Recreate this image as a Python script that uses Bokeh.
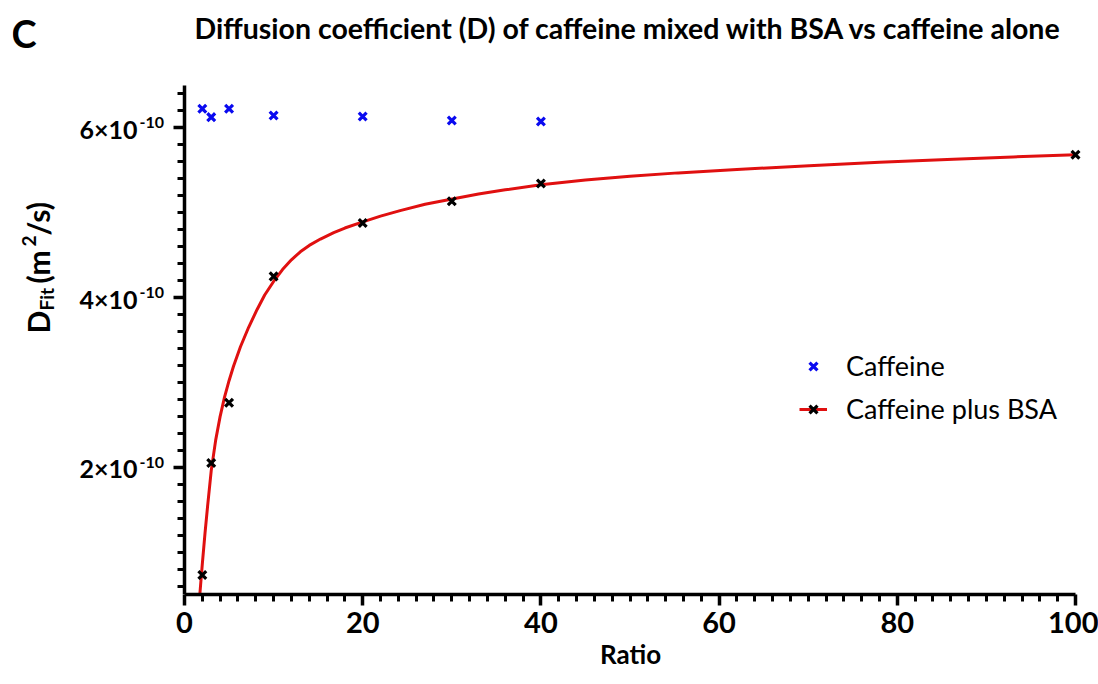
import numpy as np
from bokeh.plotting import figure
from bokeh.models import (Range1d, FixedTicker, Label, Legend, LegendItem, Title,
                          CustomJSTickFormatter)
from bokeh.embed import file_html
from bokeh.resources import INLINE

# ---------------- data ----------------
ratio = [2, 3, 5, 10, 20, 30, 40]
caffeine_D = [6.225e-10, 6.127e-10, 6.225e-10, 6.146e-10, 6.134e-10, 6.087e-10, 6.075e-10]

ratio_bsa = [2, 3, 5, 10, 20, 30, 40, 100]
caffeine_bsa_D = [0.730e-10, 2.05e-10, 2.76e-10, 4.25e-10, 4.88e-10, 5.136e-10, 5.345e-10, 5.683e-10]

# fitted curve: points
fit_x = [1.72, 2.0, 2.3, 2.6, 3.0, 3.5, 4.0, 4.5, 5.0, 5.5, 6.28, 7.2, 8.15, 9.0,
         10.0, 11.0, 12.0, 13.0, 14.0, 15.26, 16.75, 18.0, 19.93, 22.0, 24.2, 27.0,
         29.9, 33.0, 36.0, 40.0, 45.0, 50.0, 55.4, 62.0, 70.1, 78.0, 86.3, 93.0, 100.0]
fit_y = [0.50e-10, 0.86e-10, 1.22e-10, 1.55e-10, 1.96e-10, 2.32e-10, 2.60e-10, 2.83e-10,
         3.02e-10, 3.19e-10, 3.42e-10, 3.65e-10, 3.86e-10, 4.03e-10,
         4.19e-10, 4.33e-10, 4.445e-10, 4.54e-10, 4.615e-10, 4.69e-10, 4.765e-10, 4.82e-10,
         4.89e-10, 4.96e-10, 5.025e-10, 5.10e-10, 5.16e-10, 5.22e-10, 5.27e-10, 5.33e-10,
         5.385e-10, 5.43e-10, 5.47e-10, 5.51e-10, 5.555e-10, 5.595e-10, 5.63e-10, 5.658e-10,
         5.683e-10]

x_major = [0, 20, 40, 60, 80, 100]
x_minor = [v for v in range(2, 100, 2) if v % 20 != 0]
y_major = [2e-10, 4e-10, 6e-10]
y_major_text = ["2×10", "4×10", "6×10"]
y_exp_text = "-10"
y_minor = [round(0.6 + 0.2 * i, 1) * 1e-10 for i in range(30)]

title_text = "Diffusion coefficient (D) of caffeine mixed with BSA vs caffeine alone"
panel_text = "C"
x_title = "Ratio"
series_names = ["Caffeine", "Caffeine plus BSA"]

# ---------------- layout ----------------
W, H = 1098, 684
BL = 12                         # left border (frame covers the rest)
AX_L, AX_R = 184, 1075          # page px of x = 0 and x = 100
AX_T, AX_B = 85, 594            # page px of y = 6.5e-10 and y = 0.5e-10
BB = H - AX_B                   # bottom border, frame ends on the x axis
XA, XB = 0.0, 100.0
YA, YB = 0.5e-10, 6.5e-10
sx = (AX_R - AX_L) / (XB - XA)
sy = (AX_B - AX_T) / (YB - YA)
x_start = XA - (AX_L - BL) / sx
x_end = XB + (W - AX_R) / sx
y_end = YB + AX_T / sy
y_start = YA

FONT = "Lato"

p = figure(width=W, height=H, output_backend="svg", toolbar_location=None,
           x_range=Range1d(x_start, x_end), y_range=Range1d(y_start, y_end),
           min_border_left=BL, min_border_right=0,
           min_border_top=0, min_border_bottom=BB)
p.title.visible = False
p.outline_line_color = None
p.xgrid.visible = False
p.ygrid.visible = False


def px2x(px):
    return XA + (px - AX_L) / sx


def py2y(py):
    return YB - (py - AX_T) / sy


for ax in (p.xaxis[0], p.yaxis[0]):
    ax.axis_line_width = 3.5
    ax.axis_line_color = "black"
    ax.major_tick_line_width = 3.5
    ax.minor_tick_line_width = 3
    ax.major_tick_in = 0
    ax.minor_tick_in = 0
    ax.major_tick_out = 11
    ax.minor_tick_out = 7
    ax.major_tick_line_cap = "butt"
    ax.minor_tick_line_cap = "butt"

p.xaxis.ticker = FixedTicker(ticks=x_major, minor_ticks=x_minor)
p.xaxis.bounds = (XA, XB)
p.xaxis.major_label_text_font = FONT
p.xaxis.major_label_text_font_style = "bold"
p.xaxis.major_label_text_font_size = "29px"
p.xaxis.major_label_text_color = "black"
p.xaxis.major_label_standoff = 6

# x axis title, centred on the axis (not on the frame); ~60 px wide text
p.add_layout(Title(text=x_title, align="left",
                   offset=(AX_L + AX_R) / 2 - 30 - BL,
                   text_font=FONT, text_font_style="bold", text_font_size="26px",
                   text_color="black", standoff=0), "below")

p.yaxis.ticker = FixedTicker(ticks=y_major, minor_ticks=y_minor)
p.yaxis.bounds = (YA, YB)
p.yaxis.fixed_location = XA
p.yaxis.major_label_standoff = 0
p.yaxis.formatter = CustomJSTickFormatter(code="return ''")

# fit line and points
curve = p.line(fit_x, fit_y, line_color="#e01010", line_width=3)
blue = p.scatter(ratio, caffeine_D, marker="x", size=11, line_width=3.2,
                 line_color="#0a0af0")
black = p.scatter(ratio_bsa, caffeine_bsa_D, marker="x", size=11, line_width=3.2,
                  line_color="black")

legend = Legend(items=[LegendItem(label=series_names[0], renderers=[blue]),
                       LegendItem(label=series_names[1], renderers=[curve, black])],
                location=(800 - BL - 1, AX_B - 425), orientation="vertical",
                label_text_font=FONT, label_text_font_size="27px",
                label_text_color="black",
                glyph_width=28, glyph_height=30, label_height=30,
                label_standoff=19, spacing=10, padding=0, margin=0,
                border_line_color=None, background_fill_alpha=0)
p.add_layout(legend)


def add_text(txt, px, py, size, align="left", angle=0.0):
    p.add_layout(Label(x=px2x(px), y=py2y(py), text=txt, angle=angle,
                       text_align=align, text_baseline="middle",
                       text_font=FONT, text_font_style="bold",
                       text_font_size=size, text_color="black"))


# y tick labels with exponent
for v, t in zip(y_major, y_major_text):
    tick_py = AX_T + (YB - v) * sy
    add_text(t, 137, tick_py + 1, "25px", align="right")
    add_text(y_exp_text, 139, tick_py - 5, "16px")

# y axis title  D_Fit (m^2/s), rotated
ang = np.pi / 2
for txt, cx, syy, fs in [("D", 37, 333, "30px"), ("Fit", 46, 310, "19px"),
                         ("(m", 37, 283, "30px"), ("2", 28, 246, "19px"),
                         ("/s)", 37, 235, "30px")]:
    add_text(txt, cx, syy, fs, angle=ang)

# chart title and panel letter
add_text(title_text, 628, 27.5, "28.5px", align="center")
add_text(panel_text, 11, 32.5, "38px")

open("out.html", "w").write(file_html(p, INLINE))
